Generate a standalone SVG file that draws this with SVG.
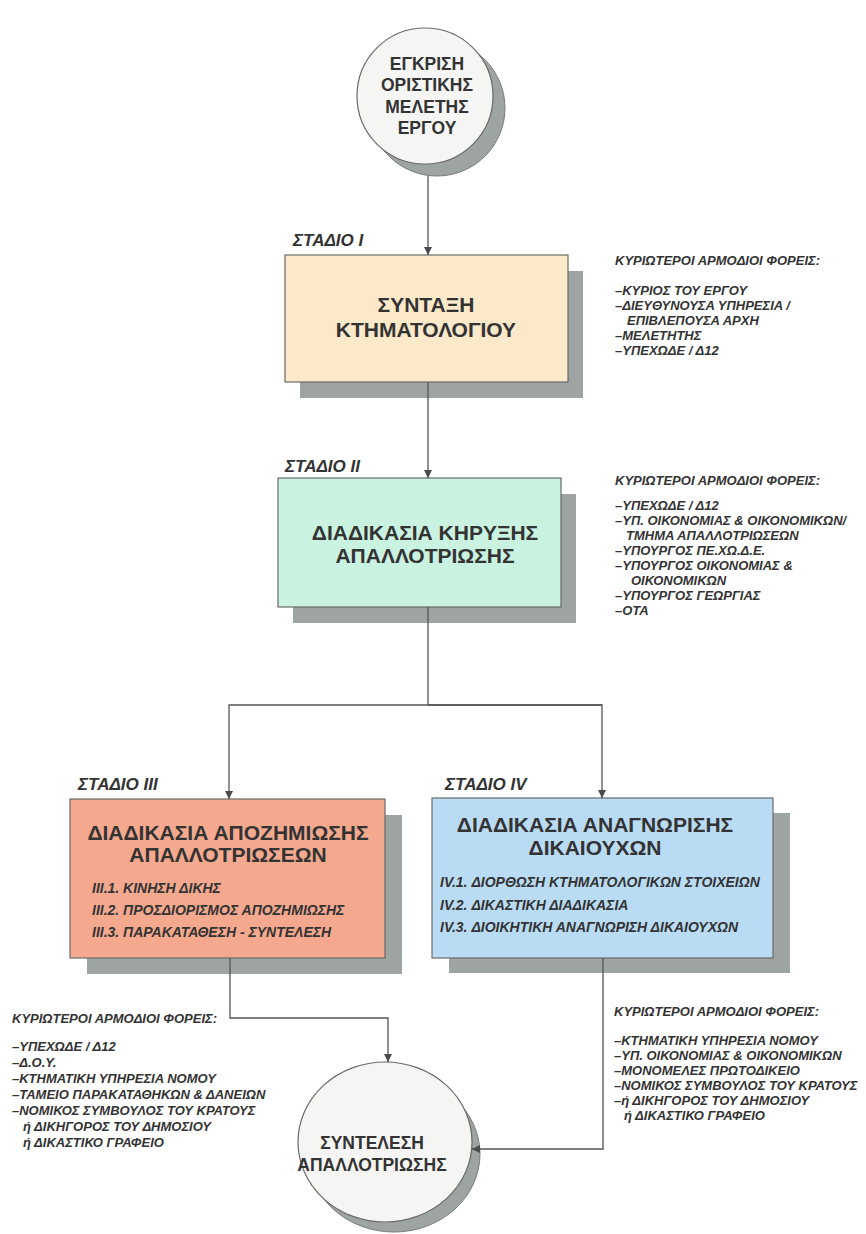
<svg xmlns="http://www.w3.org/2000/svg" width="866" height="1234" viewBox="0 0 866 1234">
<defs>
<marker id="arr" viewBox="0 0 10 10" refX="10" refY="5" markerWidth="8" markerHeight="9" markerUnits="userSpaceOnUse" orient="auto">
<path d="M0,0 L10,5 L0,10 z" fill="#4a4a4a"/>
</marker>
<style>
.conn{fill:none;stroke:#555;stroke-width:1.3}
.box{stroke:#6a6a6a;stroke-width:1.2}
.shadow{fill:#9ea4a1}
.title{font-family:"Liberation Sans",Arial,sans-serif;font-weight:bold;font-size:21px;fill:#333;text-anchor:middle}
.ctext{font-family:"Liberation Sans",Arial,sans-serif;font-weight:bold;font-size:17.5px;fill:#333;text-anchor:middle}
.stage{font-family:"Liberation Sans",Arial,sans-serif;font-weight:bold;font-style:italic;font-size:17px;fill:#333}
.item{font-family:"Liberation Sans",Arial,sans-serif;font-weight:bold;font-style:italic;font-size:14px;fill:#333}
.note{font-family:"Liberation Sans",Arial,sans-serif;font-weight:bold;font-style:italic;font-size:13px;fill:#333}
</style>
</defs>
<rect width="866" height="1234" fill="#ffffff"/>

<g id="start">
<circle cx="437" cy="108" r="68" class="shadow" stroke="#7a7a7a" stroke-width="1"/>
<circle cx="425" cy="96" r="68" fill="#f5f5f3" class="box"/>
<text class="ctext" x="427" y="70">ΕΓΚΡΙΣΗ</text>
<text class="ctext" x="427" y="91">ΟΡΙΣΤΙΚΗΣ</text>
<text class="ctext" x="427" y="113">ΜΕΛΕΤΗΣ</text>
<text class="ctext" x="427" y="134">ΕΡΓΟΥ</text>
</g>

<g id="stage1">
<text class="stage" x="293" y="246">ΣΤΑΔΙΟ Ι</text>
<rect x="300" y="271" width="283" height="127" class="shadow"/>
<rect x="285" y="255" width="283" height="127" fill="#fbe9ca" class="box"/>
<text class="title" x="426" y="312">ΣΥΝΤΑΞΗ</text>
<text class="title" x="426" y="337">ΚΤΗΜΑΤΟΛΟΓΙΟΥ</text>
</g>

<g id="notes1">
<text class="note" x="615" y="265">ΚΥΡΙΩΤΕΡΟΙ ΑΡΜΟΔΙΟΙ ΦΟΡΕΙΣ:</text>
<text class="note" x="615" y="295">–ΚΥΡΙΟΣ ΤΟΥ ΕΡΓΟΥ</text>
<text class="note" x="615" y="310">–ΔΙΕΥΘΥΝΟΥΣΑ ΥΠΗΡΕΣΙΑ /</text>
<text class="note" x="627" y="325">ΕΠΙΒΛΕΠΟΥΣΑ ΑΡΧΗ</text>
<text class="note" x="615" y="340">–ΜΕΛΕΤΗΤΗΣ</text>
<text class="note" x="615" y="355">–ΥΠΕΧΩΔΕ / Δ12</text>
</g>

<g id="stage2">
<text class="stage" x="285" y="472">ΣΤΑΔΙΟ ΙΙ</text>
<rect x="293" y="494" width="283" height="129" class="shadow"/>
<rect x="278" y="478" width="283" height="129" fill="#c9f2e1" class="box"/>
<text class="title" x="425" y="540">ΔΙΑΔΙΚΑΣΙΑ ΚΗΡΥΞΗΣ</text>
<text class="title" x="425" y="563">ΑΠΑΛΛΟΤΡΙΩΣΗΣ</text>
</g>

<g id="notes2">
<text class="note" x="615" y="485">ΚΥΡΙΩΤΕΡΟΙ ΑΡΜΟΔΙΟΙ ΦΟΡΕΙΣ:</text>
<text class="note" x="615" y="510">–ΥΠΕΧΩΔΕ / Δ12</text>
<text class="note" x="615" y="525">–ΥΠ. ΟΙΚΟΝΟΜΙΑΣ &amp; ΟΙΚΟΝΟΜΙΚΩΝ/</text>
<text class="note" x="626" y="540">ΤΜΗΜΑ ΑΠΑΛΛΟΤΡΙΩΣΕΩΝ</text>
<text class="note" x="615" y="555">–ΥΠΟΥΡΓΟΣ ΠΕ.ΧΩ.Δ.Ε.</text>
<text class="note" x="615" y="570">–ΥΠΟΥΡΓΟΣ ΟΙΚΟΝΟΜΙΑΣ &amp;</text>
<text class="note" x="631" y="585">ΟΙΚΟΝΟΜΙΚΩΝ</text>
<text class="note" x="615" y="600">–ΥΠΟΥΡΓΟΣ ΓΕΩΡΓΙΑΣ</text>
<text class="note" x="615" y="615">–ΟΤΑ</text>
</g>

<g id="stage3">
<text class="stage" x="78" y="790">ΣΤΑΔΙΟ ΙΙΙ</text>
<rect x="87" y="815" width="315" height="159" class="shadow"/>
<rect x="70" y="799" width="315" height="159" fill="#f4a98f" class="box"/>
<text class="title" x="228" y="840">ΔΙΑΔΙΚΑΣΙΑ ΑΠΟΖΗΜΙΩΣΗΣ</text>
<text class="title" x="228" y="862">ΑΠΑΛΛΟΤΡΙΩΣΕΩΝ</text>
<text class="item" x="92" y="893">ΙΙΙ.1. ΚΙΝΗΣΗ ΔΙΚΗΣ</text>
<text class="item" x="92" y="915">ΙΙΙ.2. ΠΡΟΣΔΙΟΡΙΣΜΟΣ ΑΠΟΖΗΜΙΩΣΗΣ</text>
<text class="item" x="92" y="937">ΙΙΙ.3. ΠΑΡΑΚΑΤΑΘΕΣΗ - ΣΥΝΤΕΛΕΣΗ</text>
</g>

<g id="stage4">
<text class="stage" x="445" y="790">ΣΤΑΔΙΟ ΙV</text>
<rect x="449" y="813" width="341" height="160" class="shadow"/>
<rect x="432" y="798" width="341" height="160" fill="#b9dcf4" class="box"/>
<text class="title" x="595" y="832">ΔΙΑΔΙΚΑΣΙΑ ΑΝΑΓΝΩΡΙΣΗΣ</text>
<text class="title" x="595" y="855">ΔΙΚΑΙΟΥΧΩΝ</text>
<text class="item" x="440" y="887">ΙV.1. ΔΙΟΡΘΩΣΗ ΚΤΗΜΑΤΟΛΟΓΙΚΩΝ ΣΤΟΙΧΕΙΩΝ</text>
<text class="item" x="440" y="910">ΙV.2. ΔΙΚΑΣΤΙΚΗ ΔΙΑΔΙΚΑΣΙΑ</text>
<text class="item" x="440" y="932">ΙV.3. ΔΙΟΙΚΗΤΙΚΗ ΑΝΑΓΝΩΡΙΣΗ ΔΙΚΑΙΟΥΧΩΝ</text>
</g>

<g id="notes3">
<text class="note" x="12" y="1023">ΚΥΡΙΩΤΕΡΟΙ ΑΡΜΟΔΙΟΙ ΦΟΡΕΙΣ:</text>
<text class="note" x="12" y="1051">–ΥΠΕΧΩΔΕ / Δ12</text>
<text class="note" x="12" y="1067">–Δ.Ο.Υ.</text>
<text class="note" x="12" y="1083">–ΚΤΗΜΑΤΙΚΗ ΥΠΗΡΕΣΙΑ ΝΟΜΟΥ</text>
<text class="note" x="12" y="1099">–ΤΑΜΕΙΟ ΠΑΡΑΚΑΤΑΘΗΚΩΝ &amp; ΔΑΝΕΙΩΝ</text>
<text class="note" x="12" y="1115">–ΝΟΜΙΚΟΣ ΣΥΜΒΟΥΛΟΣ ΤΟΥ ΚΡΑΤΟΥΣ</text>
<text class="note" x="23" y="1131">ή ΔΙΚΗΓΟΡΟΣ ΤΟΥ ΔΗΜΟΣΙΟΥ</text>
<text class="note" x="23" y="1147">ή ΔΙΚΑΣΤΙΚΟ ΓΡΑΦΕΙΟ</text>
</g>

<g id="notes4">
<text class="note" x="614" y="1016">ΚΥΡΙΩΤΕΡΟΙ ΑΡΜΟΔΙΟΙ ΦΟΡΕΙΣ:</text>
<text class="note" x="614" y="1045">–ΚΤΗΜΑΤΙΚΗ ΥΠΗΡΕΣΙΑ ΝΟΜΟΥ</text>
<text class="note" x="614" y="1060">–ΥΠ. ΟΙΚΟΝΟΜΙΑΣ &amp; ΟΙΚΟΝΟΜΙΚΩΝ</text>
<text class="note" x="614" y="1075">–ΜΟΝΟΜΕΛΕΣ ΠΡΩΤΟΔΙΚΕΙΟ</text>
<text class="note" x="614" y="1090">–ΝΟΜΙΚΟΣ ΣΥΜΒΟΥΛΟΣ ΤΟΥ ΚΡΑΤΟΥΣ</text>
<text class="note" x="614" y="1105">–ή ΔΙΚΗΓΟΡΟΣ ΤΟΥ ΔΗΜΟΣΙΟΥ</text>
<text class="note" x="624" y="1120">ή ΔΙΚΑΣΤΙΚΟ ΓΡΑΦΕΙΟ</text>
</g>

<g id="end">
<ellipse cx="394" cy="1154" rx="86" ry="78" class="shadow" stroke="#7a7a7a" stroke-width="1"/>
<ellipse cx="385" cy="1142" rx="87" ry="80" fill="#f5f5f3" class="box"/>
<text class="ctext" x="372" y="1149">ΣΥΝΤΕΛΕΣΗ</text>
<text class="ctext" x="372" y="1171">ΑΠΑΛΛΟΤΡΙΩΣΗΣ</text>
</g>

<g id="connectors">
<path class="conn" d="M428,176 V255" marker-end="url(#arr)"/>
<path class="conn" d="M428,382 V478" marker-end="url(#arr)"/>
<path class="conn" d="M428,607 V705"/>
<path class="conn" d="M602,705 H229 V799" marker-end="url(#arr)"/>
<path class="conn" d="M428,705 H602 V798" marker-end="url(#arr)"/>
<path class="conn" d="M230,958 V1018 H388 V1062" marker-end="url(#arr)"/>
<path class="conn" d="M603,958 V1149 H472" marker-end="url(#arr)"/>
</g>
</svg>
